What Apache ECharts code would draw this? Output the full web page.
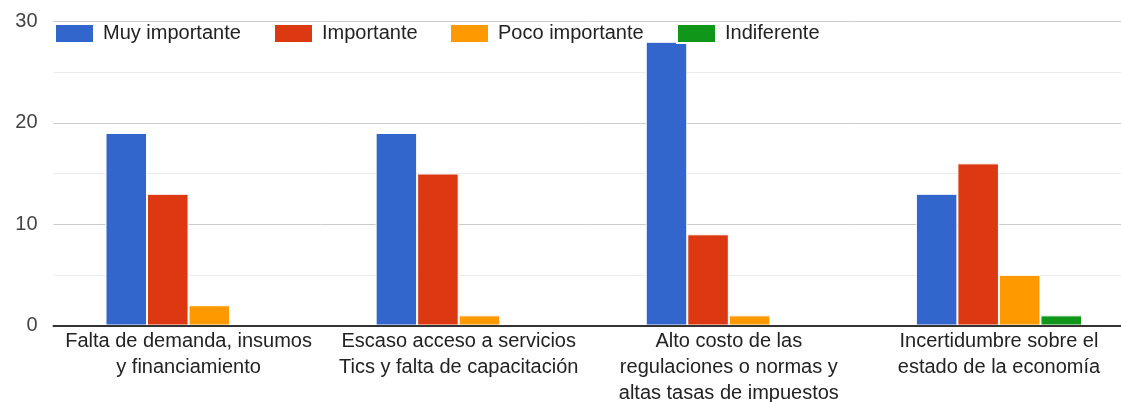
<!DOCTYPE html>
<html><head><meta charset="utf-8">
<script src="https://cdn.jsdelivr.net/npm/echarts@6/dist/echarts.min.js"></script>
<style>html,body{margin:0;padding:0;background:#fff}#c{width:1121px;height:402px}</style>
</head><body><div id="c"></div>
<script>
const categories = [
  "Falta de demanda, insumos\ny financiamiento",
  "Escaso acceso a servicios\nTics y falta de capacitación",
  "Alto costo de las\nregulaciones o normas y\naltas tasas de impuestos",
  "Incertidumbre sobre el\nestado de la economía"
];
const seriesNames = ["Muy importante", "Importante", "Poco importante", "Indiferente"];
const muyImportante = [19, 19, 28, 13];
const importante = [13, 15, 9, 16];
const pocoImportante = [2, 1, 1, 5];
const indiferente = [0, 0, 0, 1];
const colors = ["#3366cc", "#dc3912", "#ff9900", "#109618"];
const values = [muyImportante, importante, pocoImportante, indiferente];
const legendLefts = [54, 273, 449, 676];

const chart = echarts.init(document.getElementById('c'));
chart.setOption({
  animation: false,
  textStyle: { fontFamily: 'Liberation Sans, Arial, sans-serif' },
  legend: seriesNames.map((n, i) => ({
    left: legendLefts[i], top: 23, padding: 0,
    itemWidth: 39, itemHeight: 19,
    icon: 'rect',
    textStyle: { fontSize: 20, color: '#222', padding: [0, 0, 0, 4] },
    data: [n]
  })),
  grid: { left: 53.5, right: -13, top: 21.5, bottom: 76.5, containLabel: false, outerBoundsMode: 'none' },
  xAxis: {
    type: 'category', data: categories, z: 5,
    axisLine: { lineStyle: { color: '#333', width: 2 } },
    axisTick: { show: false },
    axisLabel: { fontSize: 20, color: '#222', lineHeight: 26, margin: 3, interval: 0 }
  },
  yAxis: {
    type: 'value', min: 0, max: 30, interval: 10,
    axisLine: { show: false }, axisTick: { show: false },
    axisLabel: { fontSize: 20, color: '#444', margin: 16 },
    splitLine: { lineStyle: { color: '#cccccc' } },
    minorTick: { show: false, splitNumber: 2 },
    minorSplitLine: { show: true, lineStyle: { color: '#ebebeb' } }
  },
  series: seriesNames.map((n, i) => ({
    name: n, type: 'bar', data: values[i],
    itemStyle: { color: colors[i], borderColor: '#fff', borderWidth: 1 },
    barGap: '0%', barCategoryGap: '38.5%'
  }))
});
</script></body></html>
